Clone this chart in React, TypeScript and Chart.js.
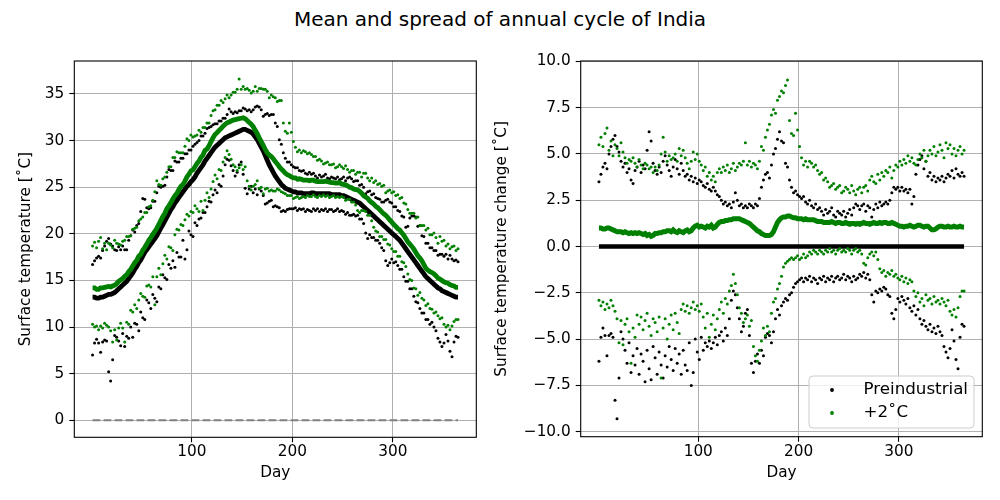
import { useEffect, useRef } from 'react'
import Chart from 'chart.js/auto'

const FONT = 'DejaVu Sans'
const figTitle = 'Mean and spread of annual cycle of India'
const seriesNames = ['Preindustrial', '+2˚C']
const xTicks = [100, 200, 300]
const leftYTicks = [0, 5, 10, 15, 20, 25, 30, 35]
const rightYTicks = [-10, -7.5, -5, -2.5, 0, 2.5, 5, 7.5, 10]

// every second day of the year: 1, 3, 5 ... 365
const days = Array.from({ length: 183 }, (_, i) => 2 * i + 1)

// preindustrial mean annual cycle [˚C]
const preMean = [
  13.2, 13.2, 13.1, 13.1, 13.2, 13.2, 13.3, 13.4, 13.5, 13.5,
  13.6, 13.7, 13.9, 14.1, 14.3, 14.5, 14.7, 14.9, 15.2, 15.5,
  15.8, 16.2, 16.5, 16.9, 17.2, 17.6, 18.0, 18.3, 18.6, 18.9,
  19.2, 19.5, 19.8, 20.2, 20.6, 21.0, 21.4, 21.8, 22.2, 22.6,
  22.9, 23.3, 23.6, 23.9, 24.2, 24.5, 24.8, 25.1, 25.3, 25.6,
  25.8, 26.1, 26.5, 26.8, 27.1, 27.4, 27.8, 28.1, 28.4, 28.7,
  29.0, 29.3, 29.5, 29.7, 29.9, 30.1, 30.3, 30.4, 30.5, 30.6,
  30.7, 30.8, 30.9, 31.0, 31.1, 31.2, 31.2, 31.1, 31.0, 30.9,
  30.7, 30.4, 30.1, 29.7, 29.3, 28.9, 28.4, 27.9, 27.4, 27.0,
  26.6, 26.2, 25.9, 25.6, 25.3, 25.1, 24.9, 24.8, 24.7, 24.6,
  24.5, 24.5, 24.4, 24.4, 24.4, 24.3, 24.3, 24.3, 24.3, 24.4,
  24.4, 24.3, 24.3, 24.3, 24.3, 24.3, 24.3, 24.3, 24.3, 24.2,
  24.2, 24.2, 24.2, 24.2, 24.1, 24.1, 24.0, 23.9, 23.8, 23.7,
  23.6, 23.5, 23.4, 23.3, 23.1, 22.9, 22.7, 22.5, 22.3, 22.1,
  21.9, 21.7, 21.5, 21.3, 21.1, 20.9, 20.7, 20.5, 20.3, 20.1,
  19.9, 19.7, 19.5, 19.3, 19.0, 18.7, 18.4, 18.1, 17.8, 17.5,
  17.2, 16.9, 16.6, 16.3, 16.0, 15.7, 15.4, 15.2, 15.0, 14.8,
  14.6, 14.4, 14.2, 14.1, 13.9, 13.8, 13.7, 13.6, 13.5, 13.4,
  13.3, 13.2, 13.2,
]

// +2˚C mean minus preindustrial mean
const warmMeanChange = [
  1.0, 1.0, 0.95, 0.95, 1.0, 1.0, 0.95, 0.9, 0.85, 0.8,
  0.8, 0.8, 0.75, 0.8, 0.75, 0.7, 0.75, 0.7, 0.75, 0.7,
  0.75, 0.7, 0.65, 0.7, 0.6, 0.65, 0.55, 0.6, 0.7, 0.7,
  0.75, 0.75, 0.8, 0.8, 0.85, 0.85, 0.8, 0.9, 0.8, 0.75,
  0.85, 0.8, 0.75, 0.85, 0.9, 0.8, 0.85, 1.0, 1.1, 1.15,
  1.05, 1.1, 1.05, 1.0, 1.1, 1.05, 1.15, 1.0, 1.05, 1.2,
  1.3, 1.35, 1.35, 1.4, 1.4, 1.45, 1.45, 1.5, 1.5, 1.5,
  1.5, 1.45, 1.4, 1.35, 1.3, 1.25, 1.15, 1.05, 0.95, 0.85,
  0.8, 0.7, 0.65, 0.6, 0.6, 0.6, 0.65, 0.8, 1.05, 1.3,
  1.45, 1.55, 1.6, 1.6, 1.65, 1.65, 1.6, 1.55, 1.55, 1.5,
  1.5, 1.5, 1.45, 1.5, 1.45, 1.45, 1.45, 1.45, 1.4, 1.35,
  1.35, 1.35, 1.3, 1.3, 1.3, 1.3, 1.35, 1.3, 1.25, 1.3,
  1.3, 1.25, 1.25, 1.3, 1.25, 1.2, 1.25, 1.25, 1.2, 1.25,
  1.2, 1.25, 1.3, 1.25, 1.25, 1.2, 1.25, 1.3, 1.25, 1.25,
  1.3, 1.25, 1.3, 1.3, 1.25, 1.25, 1.3, 1.25, 1.2, 1.15,
  1.1, 1.1, 1.05, 1.1, 1.1, 1.15, 1.1, 1.05, 1.1, 1.15,
  1.15, 1.1, 1.05, 1.1, 1.1, 1.0, 0.9, 0.9, 0.95, 1.05,
  1.1, 1.1, 1.05, 1.05, 1.1, 1.05, 1.05, 1.1, 1.05, 1.05,
  1.1, 1.05, 1.05,
]

// spread (upper / lower) relative to the preindustrial mean
const preUpper = [
  3.5, 3.9, 4.3, 4.5, 4.2, 5.0, 5.4, 5.8, 6.0, 5.4,
  5.1, 4.6, 4.3, 4.5, 4.0, 4.2, 3.6, 3.4, 4.1, 4.3,
  4.6, 4.0, 4.4, 4.2, 5.2, 6.2, 5.7, 4.5, 4.1, 3.9,
  4.3, 4.0, 4.6, 4.9, 4.4, 4.1, 3.8, 4.3, 4.7, 4.2,
  3.9, 4.5, 4.1, 3.8, 3.9, 3.6, 3.8, 3.5, 3.7, 3.4,
  3.6, 3.5, 3.3, 3.2, 3.4, 3.1, 3.0, 3.2, 3.0, 2.8,
  2.7, 2.5, 2.3, 2.4, 2.2, 2.3, 2.1, 2.4, 2.9, 2.5,
  2.2, 2.3, 2.1, 2.2, 2.1, 2.3, 2.2, 2.1, 2.3, 2.2,
  2.6, 3.2, 3.6, 3.9, 4.0, 3.7, 4.4, 5.0, 5.3, 5.8,
  6.2, 5.7, 5.6, 4.5, 4.3, 3.6, 3.2, 2.9, 3.0, 2.8,
  2.7, 2.6, 2.7, 2.4, 2.3, 2.5, 2.2, 2.1, 2.3, 2.0,
  2.1, 1.9, 1.7, 2.0, 1.8, 1.9, 2.1, 1.7, 1.6, 1.9,
  1.8, 1.7, 1.9, 1.6, 1.8, 2.0, 1.7, 2.1, 2.3, 2.2,
  2.0, 2.2, 2.3, 1.9, 2.2, 2.1, 1.6, 2.0, 2.3, 2.1,
  2.4, 2.2, 2.3, 2.4, 2.3, 2.5, 2.9, 3.2, 3.1, 3.2,
  3.0, 3.2, 3.0, 3.1, 2.9, 3.1, 2.3, 2.7, 3.9, 4.4,
  4.7, 4.9, 4.2, 4.6, 3.8, 4.0, 3.6, 3.8, 3.5, 3.7,
  3.6, 3.8, 3.5, 3.7, 3.9, 3.8, 4.1, 3.7, 4.2, 3.9,
  3.8, 4.0, 3.8,
]

const preLower = [
  -6.2, -4.9, -4.4, -4.8, -5.9, -4.8, -4.7, -4.9, -8.3, -9.3,
  -7.1, -4.6, -5.0, -5.6, -6.3, -5.2, -6.8, -5.9, -6.4, -5.5,
  -6.9, -5.8, -6.2, -7.3, -5.6, -6.6, -7.2, -5.4, -6.0, -6.9,
  -5.7, -6.4, -7.1, -5.9, -6.5, -5.4, -6.1, -6.7, -5.5, -6.3,
  -5.8, -6.9, -5.6, -6.4, -6.7, -5.2, -7.5, -6.8, -5.0, -5.7,
  -6.1, -4.9, -5.6, -5.2, -5.4, -5.1, -5.5, -5.2, -4.9, -5.3,
  -4.8, -4.6, -5.1, -4.4, -4.8, -3.9, -2.9, -2.4, -2.6, -3.3,
  -3.9, -4.6, -4.3, -3.6, -3.4, -4.8, -6.3, -6.8, -6.2, -5.8,
  -6.3, -5.6, -5.9, -4.9, -4.7, -4.8, -5.2, -4.6, -3.9, -3.4,
  -3.7, -3.2, -3.0, -2.8, -2.9, -2.6, -2.5, -2.2, -2.0, -1.9,
  -1.8, -1.7, -1.9, -1.7, -1.8, -1.6, -1.9, -1.7, -1.8, -2.0,
  -1.7, -1.8, -1.6, -1.9, -1.7, -1.8, -1.6, -1.9, -1.7, -1.6,
  -1.8, -1.7, -1.5, -1.8, -1.6, -1.7, -1.9, -1.6, -1.8, -1.7,
  -1.5, -1.6, -1.4, -1.7, -1.5, -1.8, -2.6, -3.0, -2.4, -2.5,
  -2.3, -2.4, -2.2, -2.3, -2.6, -2.7, -3.6, -3.9, -3.4, -2.8,
  -3.0, -2.7, -2.9, -3.1, -2.8, -3.3, -3.5, -3.2, -3.7, -3.4,
  -3.9, -4.2, -4.0, -4.3, -4.5, -4.2, -4.6, -4.4, -4.7, -4.3,
  -4.6, -4.8, -5.4, -5.7, -6.0, -5.5, -4.5, -5.1, -6.1, -6.6,
  -4.9, -4.2, -4.3,
]

const warmUpper = [
  5.5, 5.9, 5.4, 6.1, 6.4, 5.2, 5.7, 4.9, 5.5, 5.3,
  4.9, 5.6, 5.1, 4.8, 4.5, 4.7, 4.6, 4.8, 4.5, 4.3,
  4.7, 4.4, 4.2, 4.5, 4.4, 4.2, 4.3, 4.0, 4.3, 4.1,
  4.4, 5.0, 5.9, 5.1, 4.6, 4.9, 4.7, 4.8, 5.0, 4.6,
  5.3, 4.9, 5.2, 4.8, 4.5, 4.2, 4.6, 5.1, 4.7, 5.0,
  4.6, 4.4, 4.1, 4.3, 3.8, 4.0, 3.6, 3.8, 3.5, 4.0,
  4.2, 4.0, 4.3, 4.1, 4.4, 4.0, 4.2, 4.5, 4.1, 4.3,
  4.5, 4.4, 4.6, 5.6, 4.4, 4.6, 4.3, 4.5, 4.4, 4.2,
  4.6, 5.4, 5.2, 5.9, 6.3, 6.6, 7.1, 7.4, 7.2, 7.9,
  8.1, 8.4, 8.3, 8.7, 9.0, 6.8, 6.1, 6.0, 7.2, 6.3,
  5.4, 4.8, 4.4, 4.6, 4.3, 4.6, 4.5, 4.3, 4.4, 4.1,
  3.9, 4.0, 3.6, 3.7, 3.5, 3.2, 3.3, 3.4, 3.1, 3.2,
  3.3, 2.9, 3.0, 3.2, 3.1, 2.9, 3.3, 3.0, 2.8, 3.1,
  3.2, 2.9, 3.2, 3.3, 3.0, 3.6, 3.8, 3.5, 3.4, 3.9,
  3.6, 4.0, 3.8, 4.1, 4.0, 4.3, 3.7, 4.1, 4.4, 4.3,
  4.6, 4.4, 4.7, 4.5, 4.9, 4.6, 4.8, 4.5, 4.4, 4.7,
  5.0, 4.8, 5.2, 4.6, 4.9, 5.2, 5.0, 5.4, 4.9, 5.1,
  5.5, 5.2, 4.8, 5.6, 5.3, 5.5, 5.0, 5.3, 4.9, 5.2,
  5.4, 5.0, 5.2,
]

const warmLower = [
  -2.9, -3.2, -3.0, -3.4, -3.1, -3.3, -2.9, -3.2, -3.5, -3.9,
  -5.2, -4.0, -5.3, -4.2, -3.9, -4.6, -6.3, -4.4, -4.9, -3.7,
  -4.2, -3.8, -4.5, -4.0, -3.6, -4.3, -4.8, -3.9, -4.1, -4.6,
  -3.8, -7.1, -4.4, -3.9, -5.0, -4.2, -3.7, -4.5, -3.6, -4.1,
  -4.7, -3.4, -3.1, -3.5, -3.2, -3.6, -3.3, -3.0, -3.4, -3.2,
  -3.5, -3.1, -3.8, -4.4, -3.6, -4.9, -4.2, -3.7, -4.5, -3.9,
  -3.4, -3.0, -3.6, -2.8, -3.1, -2.4, -2.1, -1.5, -2.0, -2.6,
  -3.3, -3.6, -4.1, -3.9, -3.7, -4.3, -4.0, -5.4, -5.9, -6.2,
  -5.6, -5.1, -4.4, -4.8, -4.3, -4.6, -3.6, -3.0, -2.8, -2.3,
  -2.0, -1.6, -1.1, -0.9, -0.8, -0.7, -0.6, -0.7, -0.6, -0.5,
  -0.7, -0.6, -0.4, -0.6, -0.5, -0.3, -0.4, -0.2, -0.3, -0.4,
  -0.2, -0.3, -0.4, -0.2, -0.3, -0.1, -0.3, -0.2, -0.4, -0.2,
  -0.1, -0.3, -0.2, -0.3, -0.1, -0.2, -0.4, -0.2, -0.1, -0.3,
  -0.2, -0.4, -0.9, -1.0, -0.6, -0.4, -0.3, -0.5, -0.3, -0.7,
  -1.2, -1.4, -1.3, -1.6, -1.4, -1.5, -1.3, -1.6, -1.5, -1.7,
  -1.8, -1.6, -1.9, -1.7, -2.0, -1.8, -1.9, -2.4, -2.7, -2.5,
  -3.0, -2.8, -3.2, -2.6, -2.9, -2.8, -3.1, -2.7, -3.0, -2.9,
  -3.1, -2.8, -3.0, -3.2, -2.9, -3.5, -3.7, -3.4, -3.8, -3.3,
  -2.7, -2.4, -2.4,
]

const BLACK = '#000000'
const GREEN = '#008000'

const pts = (ys: number[]) => days.map((d, i) => ({ x: d, y: ys[i] }))
const add = (a: number[], b: number[]) => a.map((v, i) => v + b[i])

const dots = (ys: number[], color: string, order: number, label?: string) => ({
  label,
  data: pts(ys),
  showLine: false,
  pointRadius: 1.5,
  pointBorderWidth: 0,
  pointBackgroundColor: color,
  backgroundColor: color,
  order,
})

const line = (ys: number[], color: string, width: number, order: number, dash: number[] = []) => ({
  data: pts(ys),
  showLine: true,
  pointRadius: 0,
  borderColor: color,
  borderWidth: width,
  borderDash: dash,
  order,
})

const framePlugin = {
  id: 'frame',
  afterDatasetsDraw(chart: any) {
    const { ctx, chartArea: a } = chart
    ctx.save()
    ctx.strokeStyle = BLACK
    ctx.lineWidth = 1.1
    ctx.strokeRect(a.left, a.top, a.right - a.left, a.bottom - a.top)
    ctx.restore()
  },
}

const legendPlugin = {
  id: 'boxLegend',
  afterDraw(chart: any) {
    const { ctx, chartArea: a } = chart
    const w = 165
    const h = 52
    const x = a.right - 8.3 - w
    const y = a.bottom - 8.7 - h
    ctx.save()
    ctx.beginPath()
    ctx.roundRect(x, y, w, h, 4)
    ctx.fillStyle = 'rgba(255,255,255,0.8)'
    ctx.fill()
    ctx.strokeStyle = '#cccccc'
    ctx.lineWidth = 1
    ctx.stroke()
    const colors = [BLACK, GREEN]
    ctx.font = `16.7px "${FONT}"`
    ctx.textBaseline = 'alphabetic'
    seriesNames.forEach((name, i) => {
      ctx.beginPath()
      ctx.fillStyle = colors[i]
      ctx.arc(x + 23, y + 14 + i * 23, 1.9, 0, Math.PI * 2)
      ctx.fill()
      ctx.fillStyle = BLACK
      ctx.fillText(name, x + 54.5, y + 18 + i * 23)
    })
    ctx.restore()
  },
}

function axes(opts: {
  yMin: number
  yMax: number
  yTicks: number[]
  fmt: (v: number) => string
  yWidth: number
  yTitle: string
  yTitlePad: number
  xHeight: number
}) {
  const grid = { color: '#b0b0b0', tickColor: BLACK, tickLength: 5, lineWidth: 1, tickWidth: 1.1 }
  return {
    x: {
      type: 'linear' as const,
      min: -17.2,
      max: 383.2,
      afterBuildTicks: (s: any) => {
        s.ticks = xTicks.map((v) => ({ value: v }))
      },
      afterFit: (s: any) => {
        s.height = opts.xHeight
      },
      grid,
      border: { display: false },
      ticks: { padding: 1, maxRotation: 0, autoSkip: false, color: BLACK, callback: (v: any) => String(v) },
      title: { display: true, text: 'Day', color: BLACK, padding: { top: 0, bottom: 18 } },
    },
    y: {
      type: 'linear' as const,
      min: opts.yMin,
      max: opts.yMax,
      afterBuildTicks: (s: any) => {
        s.ticks = opts.yTicks.map((v) => ({ value: v }))
      },
      afterFit: (s: any) => {
        s.width = opts.yWidth
      },
      grid,
      border: { display: false },
      ticks: { padding: 5, autoSkip: false, color: BLACK, callback: (v: any) => opts.fmt(Number(v)) },
      title: { display: true, text: opts.yTitle, color: BLACK, padding: { top: opts.yTitlePad, bottom: 0 } },
    },
  }
}

export default function App() {
  const leftRef = useRef<HTMLCanvasElement>(null)
  const rightRef = useRef<HTMLCanvasElement>(null)

  useEffect(() => {
    if (!leftRef.current || !rightRef.current) return
    Chart.defaults.font.family = FONT
    Chart.defaults.font.size = 15.3
    Chart.defaults.color = BLACK

    const warmMean = add(preMean, warmMeanChange)
    const zeros = days.map(() => 0)
    const common = {
      responsive: false,
      animation: false as const,
      events: [],
      plugins: { legend: { display: false }, tooltip: { enabled: false } },
    }

    const left = new Chart(leftRef.current, {
      type: 'scatter',
      data: {
        datasets: [
          line(warmMean, GREEN, 4.8, 1),
          dots(add(preMean, warmUpper), GREEN, 2),
          dots(add(preMean, warmLower), GREEN, 2),
          line(preMean, BLACK, 4.8, 3),
          dots(add(preMean, preUpper), BLACK, 4),
          dots(add(preMean, preLower), BLACK, 4),
          line(zeros, '#808080', 2, 5, [7.7, 3.3]),
        ] as any,
      },
      options: {
        ...common,
        layout: { padding: { left: 0, right: 523.7, top: 61, bottom: 0 } },
        scales: axes({
          yMin: -1.83,
          yMax: 38.54,
          yTicks: leftYTicks,
          fmt: (v) => String(v),
          yWidth: 74.3,
          yTitle: 'Surface temperature [˚C]',
          yTitlePad: 16.8,
          xHeight: 62.7,
        }),
      } as any,
      plugins: [framePlugin],
    })

    const right = new Chart(rightRef.current, {
      type: 'scatter',
      data: {
        datasets: [
          line(warmMeanChange, GREEN, 5, 1),
          dots(warmUpper, GREEN, 2, seriesNames[1]),
          dots(warmLower, GREEN, 2),
          line(zeros, BLACK, 4.5, 3),
          dots(preUpper, BLACK, 4, seriesNames[0]),
          dots(preLower, BLACK, 4),
        ] as any,
      },
      options: {
        ...common,
        layout: { padding: { left: 480, right: 17.7, top: 61, bottom: 0 } },
        scales: axes({
          yMin: -10.27,
          yMax: 10.02,
          yTicks: rightYTicks,
          fmt: (v) => v.toFixed(1).replace('-', '\u2212'),
          yWidth: 100.7,
          yTitle: 'Surface temperature change [˚C]',
          yTitlePad: 13.3,
          xHeight: 63.3,
        }),
      } as any,
      plugins: [framePlugin, legendPlugin],
    })

    return () => {
      left.destroy()
      right.destroy()
    }
  }, [])

  const layer: React.CSSProperties = { position: 'absolute', left: 0, top: 0, width: 1000, height: 500 }

  return (
    <div style={{ position: 'fixed', left: 0, top: 0, width: 1000, height: 500, background: '#fff', overflow: 'hidden' }}>
      <div
        style={{
          position: 'absolute',
          left: 0,
          top: 6.7,
          width: 1000,
          textAlign: 'center',
          fontFamily: FONT,
          fontSize: 20,
          lineHeight: '24px',
          color: BLACK,
        }}
      >
        {figTitle}
      </div>
      <canvas ref={leftRef} width={1000} height={500} style={layer} />
      <canvas ref={rightRef} width={1000} height={500} style={layer} />
    </div>
  )
}
